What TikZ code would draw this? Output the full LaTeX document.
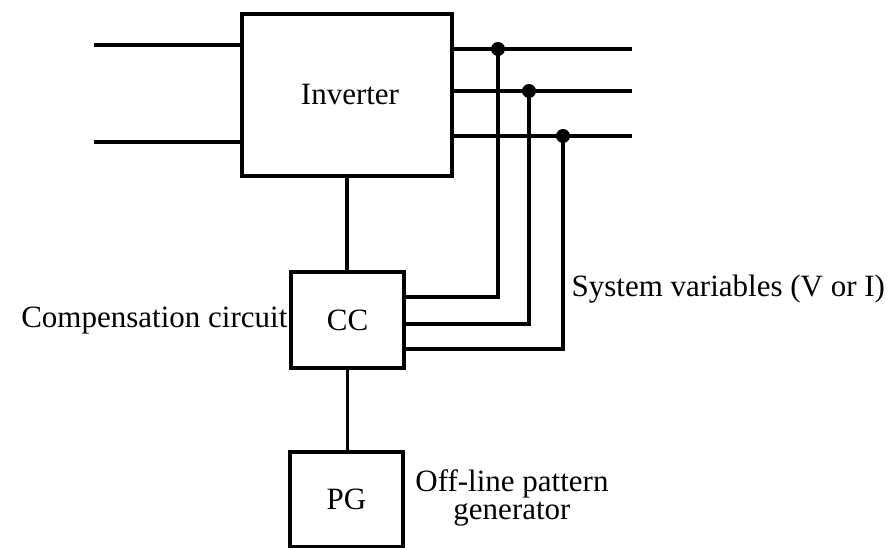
\documentclass[tikz,border=0pt]{standalone}
\usepackage{fontspec}
\setmainfont{Liberation Serif}
\begin{document}
\begin{tikzpicture}[x=1pt,y=-1pt, line width=3.3pt,
  box/.style={draw, line width=3.3pt, inner sep=0pt, font=\fontsize{31}{34}\selectfont},
  lbl/.style={inner sep=0pt, font=\fontsize{31}{28}\selectfont},
  dot/.style={circle, fill, inner sep=0pt, minimum size=14pt}]
\useasboundingbox (0,0) rectangle (895,548);
% blocks
\node[box, minimum width=210pt, minimum height=162pt] (inv) at (347,95) {\hspace{6pt}Inverter};
\node[box, minimum width=113pt, minimum height=96pt] (cc) at (347.5,320) {CC\hspace{12pt}};
\node[box, minimum width=113pt, minimum height=95pt] (pg) at (346.5,499.5) {PG\hspace{8pt}};
% input lines
\coordinate (a1) at (94,45);
\coordinate (a2) at (94,142);
\draw (a1) -- (a1 -| inv.west);
\draw (a2) -- (a2 -| inv.west);
% output lines
\coordinate (o1) at (632,49);
\coordinate (o2) at (632,91);
\coordinate (o3) at (632,136);
\draw (o1 -| inv.east) -- (o1);
\draw (o2 -| inv.east) -- (o2);
\draw (o3 -| inv.east) -- (o3);
% junction dots
\node[dot] (d1) at (498,49) {};
\node[dot] (d2) at (529,91) {};
\node[dot] (d3) at (563,136) {};
% feedback corners
\coordinate (f1) at (498,297);
\coordinate (f2) at (529,324);
\coordinate (f3) at (563,349);
\draw (d1.center) -- (f1) -- (f1 -| cc.east);
\draw (d2.center) -- (f2) -- (f2 -| cc.east);
\draw (d3.center) -- (f3) -- (f3 -| cc.east);
% vertical links
\draw (inv.south) -- (inv.south |- cc.north);
\draw (cc.south) -- (cc.south |- pg.north);
% labels
\node[lbl, anchor=base east] (comp) at (289,327) {Compensation circuit};
\node[lbl, anchor=base west] (sys) at (570,297) {System variables (V or I)};
\node[lbl, align=center, anchor=base] (offl) at (512,519) {Off-line pattern\\generator};
\end{tikzpicture}
\end{document}
